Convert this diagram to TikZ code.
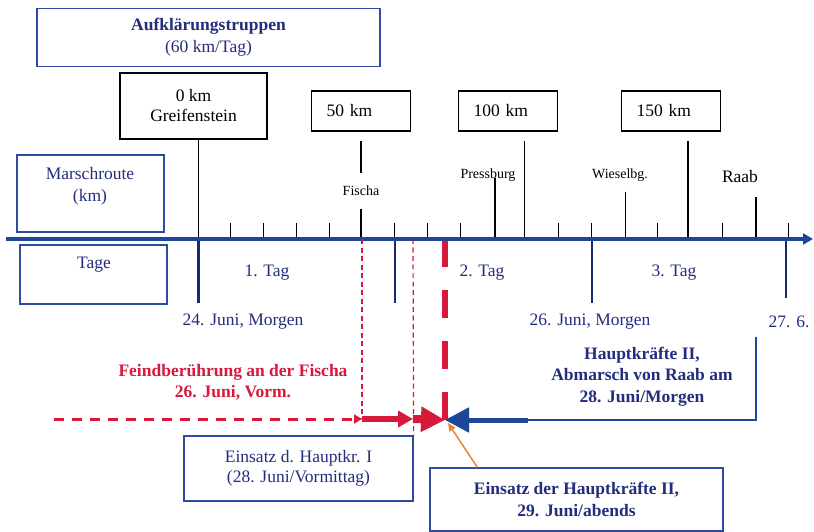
\documentclass[tikz,border=0pt]{standalone}
\usepackage{fontspec}
\setmainfont{Liberation Serif}
\usetikzlibrary{arrows.meta,calc}
\definecolor{navy}{RGB}{35,45,125}
\definecolor{boxblue}{RGB}{45,75,160}
\definecolor{axisblue}{RGB}{30,70,155}
\definecolor{dayblue}{RGB}{25,40,115}
\definecolor{myred}{RGB}{215,25,60}
\definecolor{myorange}{RGB}{235,130,60}
\tikzset{
  big/.style={font=\fontsize{17.5}{20}\selectfont},
  small/.style={font=\fontsize{14}{16}\selectfont},
  blackbox/.style={draw=black, line width=1.2pt, inner sep=0pt},
  thinbluebox/.style={draw=boxblue, line width=1.3pt, inner sep=0pt},
  thickbluebox/.style={draw=boxblue, line width=2.8pt, inner sep=0pt},
  kmbox/.style={blackbox, big, minimum height=40pt, text width=69pt, inner xsep=15pt, align=left},
  tickline/.style={draw=black, line width=1.2pt},
  dayline/.style={draw=dayblue, line width=2.5pt},
  thinreddash/.style={draw=myred, line width=1.2pt, dash pattern=on 5pt off 3.5pt},
}
\begin{document}
\begin{tikzpicture}[x=1pt,y=-1pt]
\useasboundingbox[fill=white] (0,0) rectangle (814,532);

% boxes on the left / top
\node[thinbluebox, big, text=navy, align=center, minimum width=343pt, minimum height=58pt,
      font=\fontsize{17.5}{22}\selectfont] (aufkl) at (208.5,37.5)
      {\textbf{Aufklärungstruppen}\\(60 km/Tag)};
\node[blackbox, big, align=center, minimum width=147pt, minimum height=66pt,
      font=\fontsize{17.5}{20}\selectfont] (greif) at (193.5,106) {0 km\\Greifenstein};
\node[kmbox] (km50) at (361,111) {50 km};
\node[kmbox] (km100) at (508,111) {100 km};
\node[kmbox] (km150) at (671,111) {150 km};

\node[thickbluebox, minimum width=147pt, minimum height=77pt] (marsch) at (90.5,193.5) {};
\node[big, text=navy, align=center, font=\fontsize{17.5}{22}\selectfont] (marschtxt) at (90,186) {Marschroute\\(km)};
\node[thickbluebox, minimum width=147pt, minimum height=59pt] (tage) at (93.5,274.5) {};
\node[big, text=navy] (tagetxt) at (94,265) {Tage};

% place names
\node[small, minimum height=36pt, inner sep=0pt] (fischa) at (361,191) {Fischa};
\node[small] (press) at (488,175) {Pressburg};
\node[small] (wiesel) at (620,175) {Wieselbg.};
\node[big] (raab) at (740,177) {Raab};

% axis coordinates
\coordinate (axl) at (6,239);
\coordinate (axr) at (813,239);
\coordinate (a0) at (198.5,239);
\coordinate (a5) at (361,239);
\coordinate (a9) at (495,239);
\coordinate (a10) at (524.5,239);
\coordinate (a13) at (625.5,239);
\coordinate (a15) at (688,239);
\coordinate (a17) at (756,239);
\coordinate (t50) at (361,141.5);
\coordinate (t100) at (524.5,141.5);
\coordinate (t150) at (688,141.5);
\coordinate (tpress) at (495,178);
\coordinate (twiesel) at (625.5,191.5);
\coordinate (traab) at (756,197);

% red thick dashed vertical (drawn under the axis)
\coordinate (rtop) at (444.5,239);
\coordinate (meet) at (445,420);
\draw[myred, line width=6pt, dash pattern=on 28pt off 23pt] (rtop) -- ($(meet)+(-0.5,2)$);

% thin red dashed verticals
\coordinate (fdash) at (362,239);
\coordinate (fdashb) at (362,419);
\coordinate (edash) at (413,239);

% long lines
\draw[tickline] (greif.south -| a0) -- (a0);
\draw[tickline] (t50) -- (fischa.north);
\draw[tickline] (fischa.south) -- (a5);
\draw[tickline] (t100) -- (a10);
\draw[tickline] (t150) -- (a15);
\draw[tickline] (tpress) -- (a9);
\draw[tickline] (twiesel) -- (a13);
\draw[tickline] (traab) -- (a17);

% small ticks
\foreach \k in {1,2,3,4,6,7,8,11,12,14,16,18}{
  \coordinate (tk\k) at ({198+32.8*\k},223);
  \coordinate (tb\k) at ({198+32.8*\k},239);
  \draw[tickline] (tk\k) -- (tb\k);
}

% day lines
\coordinate (d0) at (198.5,303);
\coordinate (d6a) at (395,239);
\coordinate (d6) at (395,303);
\coordinate (d12a) at (592,239);
\coordinate (d12) at (592,303);
\coordinate (d18a) at (786,239);
\coordinate (d18) at (786,298);
\draw[dayline] (a0) -- (d0);
\draw[dayline] (d6a) -- (d6);
\draw[dayline] (d12a) -- (d12);
\draw[dayline] (d18a) -- (d18);

% axis
\draw[axisblue, line width=3.5pt, -{Triangle[length=10pt,width=11pt]}] (axl) -- (axr);

% day labels
\node[big, text=navy] (tag1) at (267,273) {1. Tag};
\node[big, text=navy] (tag2) at (482,273) {2. Tag};
\node[big, text=navy] (tag3) at (674,273) {3. Tag};
\node[big, text=navy] (date24) at (243,322) {24. Juni, Morgen};
\node[big, text=navy] (date26) at (590,322) {26. Juni, Morgen};
\node[big, text=navy] (date27) at (789,322) {27. 6.};

% lower boxes
\node[thinbluebox, big, text=navy, align=center, minimum width=229pt, minimum height=65pt] (e1) at (298.5,468.5)
  {Einsatz d. Hauptkr. I\\(28. Juni/Vormittag)};
\node[thinbluebox, text=navy, align=center, minimum width=293pt, minimum height=63pt,
      font=\fontsize{17.5}{22}\bfseries\selectfont] (e2) at (576.5,499.5)
  {Einsatz der Hauptkräfte II,\\29. Juni/abends};
\node[text=myred, align=center, font=\fontsize{17.5}{21}\bfseries\selectfont] (feind) at (233,382.5)
  {Feindberührung an der Fischa\\26. Juni, Vorm.};
\node[text=navy, align=center, font=\fontsize{17.5}{21.7}\bfseries\selectfont] (hk2) at (642,376.5)
  {Hauptkräfte II,\\Abmarsch von Raab am\\28. Juni/Morgen};

% thin dashed red verticals
\draw[thinreddash] (fdash) -- (fdashb);
\draw[thinreddash] (edash) -- (e1.north east);

% red arrows
\coordinate (dstart) at (54,419);
\coordinate (mid) at (413,419);
\draw[myred, line width=3pt, dash pattern=on 10pt off 8pt, -{Triangle[length=8pt,width=9pt]}] (dstart) -- (fdashb);
\draw[myred, line width=6pt, -{Triangle[length=15pt,width=16pt]}] (fdashb) -- (mid);
\draw[myred, line width=8pt, -{Triangle[length=24pt,width=24pt]}] (mid) -- (meet);

% blue arrow from Raab
\coordinate (hktop) at (756,337);
\coordinate (hkcorner) at (756,420);
\coordinate (hkmid) at (527,420);
\draw[axisblue, line width=2pt] (hktop) -- (hkcorner) -- (hkmid);
\draw[axisblue, line width=5pt, -{Triangle[length=24pt,width=24pt]}] ($(hkmid)+(1,0)$) -- (meet);

% orange pointer
\draw[myorange, line width=1.5pt, -{Triangle[length=8pt,width=7pt]}] ($(e2.north west)+(48,0)$) -- ($(meet)+(3,3)$);
\end{tikzpicture}
\end{document}
